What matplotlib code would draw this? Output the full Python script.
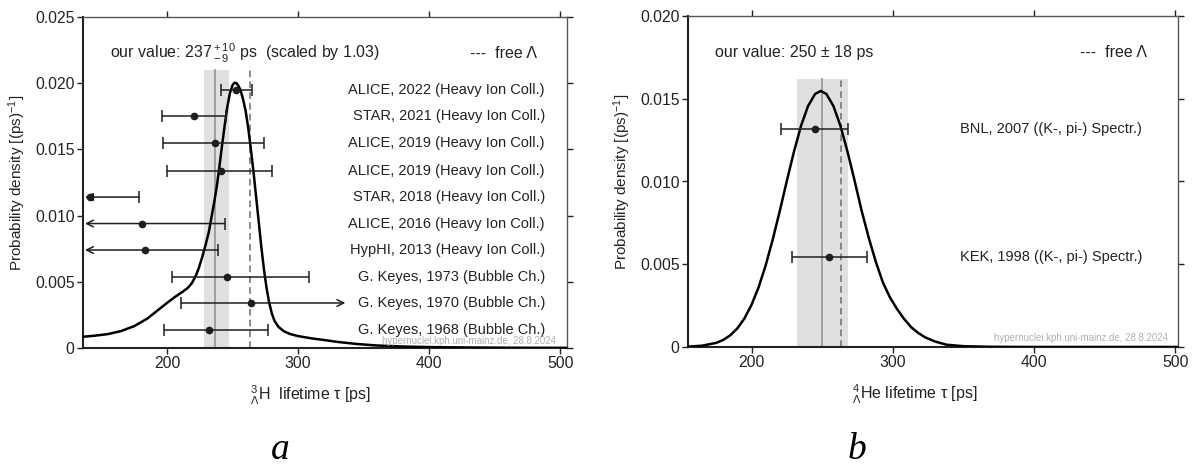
import matplotlib
matplotlib.use("Agg")
import matplotlib.pyplot as plt

plt.rcParams['font.family'] = ['Liberation Sans', 'DejaVu Sans']
plt.rcParams['mathtext.fontset'] = 'custom'
plt.rcParams['mathtext.rm'] = 'Liberation Sans'
plt.rcParams['mathtext.it'] = 'Liberation Sans'
plt.rcParams['mathtext.bf'] = 'Liberation Sans:bold'

# ---------------- data: panel a (3ΛH) ----------------
a_curve_x = [136, 145, 155, 165, 175, 185, 193, 200, 206, 212, 216, 219, 222, 224.5, 227,
             229.5, 232, 234, 236, 238, 240, 242, 244, 246, 248, 250, 251.5, 253, 254.5,
             256, 258, 260, 262, 264, 266, 268, 270, 272, 274, 276, 278, 280, 282, 285,
             289, 294, 300, 310, 320, 330, 345, 360, 380, 400, 430, 460, 505]
a_curve_y = [0.00085, 0.00093, 0.00105, 0.00128, 0.00165, 0.00222, 0.00285, 0.00340,
             0.00385, 0.00425, 0.00455, 0.00490, 0.00545, 0.00610, 0.00690, 0.00780,
             0.00880, 0.00990, 0.01100, 0.01220, 0.01370, 0.01530, 0.01680, 0.01820,
             0.01925, 0.01985, 0.02004, 0.02000, 0.01980, 0.01950, 0.01880, 0.01790,
             0.01660, 0.01500, 0.01330, 0.01140, 0.00950, 0.00760, 0.00590, 0.00450,
             0.00340, 0.00260, 0.00205, 0.00160, 0.00127, 0.00105, 0.00090, 0.00073,
             0.00060, 0.00046, 0.00030, 0.00019, 0.00011, 0.00007, 0.00004, 0.00002,
             0.00001]
a_labels = ["ALICE, 2022 (Heavy Ion Coll.)", "STAR, 2021 (Heavy Ion Coll.)",
            "ALICE, 2019 (Heavy Ion Coll.)", "ALICE, 2019 (Heavy Ion Coll.)",
            "STAR, 2018 (Heavy Ion Coll.)", "ALICE, 2016 (Heavy Ion Coll.)",
            "HypHI, 2013 (Heavy Ion Coll.)", "G. Keyes, 1973 (Bubble Ch.)",
            "G. Keyes, 1970 (Bubble Ch.)", "G. Keyes, 1968 (Bubble Ch.)"]
a_rows = [0.0195, 0.0175, 0.0155, 0.0134, 0.0114, 0.0094, 0.0074, 0.0054, 0.0034, 0.00138]
a_val = [253, 221, 237, 241, 141, 181, 183, 246, 264, 232]
a_lo = [241, 196, 197, 200, None, None, None, 204, 211, 198]
a_hi = [265, 245, 274, 280, 179, 244, 239, 308, None, 277]
a_our, a_our_lo, a_our_hi = 237, 228, 247
a_free = 263.2

# ---------------- data: panel b (4ΛHe) ----------------
b_curve_x = [155, 165, 175, 180, 185, 190, 195, 200, 205, 210, 215, 220, 225, 230, 235,
             240, 245, 249, 253, 258, 263, 268, 273, 278, 283, 288, 293, 298, 303, 308,
             313, 318, 323, 330, 338, 350, 370, 400, 502]
b_curve_y = [0.00002, 0.00008, 0.00025, 0.00043, 0.00071, 0.00113, 0.00173, 0.00255,
             0.00361, 0.00493, 0.00649, 0.00822, 0.01004, 0.01179, 0.01335, 0.01456,
             0.01529, 0.01547, 0.01529, 0.01456, 0.01335, 0.01179, 0.01004, 0.00822,
             0.00660, 0.00515, 0.00390, 0.00300, 0.00230, 0.00170, 0.00120, 0.00085,
             0.00058, 0.00033, 0.00014, 0.00005, 0.00001, 0.0, 0.0]
b_labels = ["BNL, 2007 ((K-, pi-) Spectr.)", "KEK, 1998 ((K-, pi-) Spectr.)"]
b_rows = [0.01315, 0.00542]
b_val = [245, 255]
b_lo = [221, 229]
b_hi = [268, 282]
b_our, b_our_lo, b_our_hi = 250, 232, 268
b_free = 263.2

fig = plt.figure(figsize=(12.02, 4.69), dpi=100)
axa = fig.add_axes([83/1202, 1-348/469, (567-83)/1202, (348-17)/469])
axb = fig.add_axes([688/1202, 1-347/469, (1178-688)/1202, (347-16)/469])

ecol = '#1e1e1e'
FS = 10.5
FT = 11.5
tcol = '#222'


def style(ax, xlim, ylim, yticks, yticklabels):
    ax.set_xlim(*xlim)
    ax.set_ylim(*ylim)
    ax.set_xticks([200, 300, 400, 500])
    ax.set_yticks(yticks)
    ax.set_yticklabels(yticklabels)
    ax.tick_params(direction='out', length=4, width=1, labelsize=11.3, colors=tcol,
                   top=True, right=True, labeltop=False, labelright=False, pad=2)
    for s in ['left', 'bottom']:
        ax.spines[s].set_linewidth(1.5)
        ax.spines[s].set_color('#222')
    for s in ['top', 'right']:
        ax.spines[s].set_linewidth(1.0)
        ax.spines[s].set_color('#555')
    ax.set_ylabel(r'Probability density [(ps)$^{-1}$]', fontsize=11, color=tcol, labelpad=5)


# ---- panel a ----
style(axa, (136, 505), (0, 0.025), [0, 0.005, 0.010, 0.015, 0.020, 0.025],
      ['0', '0.005', '0.010', '0.015', '0.020', '0.025'])
axa.fill_between([a_our_lo, a_our_hi], 0, 0.021, color='#e0e0e0', lw=0, zorder=0)
axa.plot([a_our, a_our], [0, 0.021], color='#9a9a9a', lw=1.3, zorder=1)
axa.plot([a_free, a_free], [0, 0.021], color='#777', lw=1.2, ls=(0, (4, 2.5)), zorder=1)
axa.plot(a_curve_x, a_curve_y, color='black', lw=1.8, zorder=3, solid_joinstyle='round')

xmin_a = 137.5
for yv, v, lo, hi in zip(a_rows, a_val, a_lo, a_hi):
    if lo is not None and hi is not None:
        axa.errorbar([v], [yv], xerr=[[v - lo], [hi - v]], fmt='o', color=ecol, ms=4.5,
                     capsize=4, elinewidth=1.1, capthick=1.1, zorder=4)
    elif lo is None:
        filled = v < 150
        axa.annotate('', xy=(xmin_a, yv), xytext=(hi, yv),
                     arrowprops=dict(arrowstyle='-|>' if filled else '->', color=ecol, lw=1.1,
                                     shrinkA=0, shrinkB=0, mutation_scale=12), zorder=4)
        axa.plot([hi], [yv], marker='|', ms=8, mew=1.1, color=ecol, zorder=4)
        axa.plot([v], [yv], 'o', ms=4.5, color=ecol, zorder=5)
    else:
        axa.annotate('', xy=(336, yv), xytext=(lo, yv),
                     arrowprops=dict(arrowstyle='->', color=ecol, lw=1.1,
                                     shrinkA=0, shrinkB=0, mutation_scale=12), zorder=4)
        axa.plot([lo], [yv], marker='|', ms=8, mew=1.1, color=ecol, zorder=4)
        axa.plot([v], [yv], 'o', ms=4.5, color=ecol, zorder=5)

for lab, yv in zip(a_labels, a_rows):
    axa.text(0.9545, yv, lab, transform=axa.get_yaxis_transform(), ha='right', va='center',
             fontsize=FS, color=tcol)

axa.text(0.056, 0.891, r'our value: 237$\,^{+\,10}_{-\,9}$ ps  (scaled by 1.03)',
         transform=axa.transAxes, ha='left', va='center', fontsize=FT, color=tcol)
axa.text(0.938, 0.891, '---  free Λ', transform=axa.transAxes, ha='right', va='center',
         fontsize=FT, color=tcol)
axa.text(0.977, 0.022, 'hypernuclei.kph.uni-mainz.de, 28.8.2024', transform=axa.transAxes,
         ha='right', va='center', fontsize=7, color='#b0b0b0')
axa.set_xlabel(r'${}^{3}_{\Lambda}$H  lifetime τ [ps]', fontsize=11.5, color=tcol, labelpad=9)
axa.xaxis.label.set_x((311 - 83) / 484)

# ---- panel b ----
style(axb, (155, 502), (0, 0.020), [0, 0.005, 0.010, 0.015, 0.020],
      ['0', '0.005', '0.010', '0.015', '0.020'])
axb.fill_between([b_our_lo, b_our_hi], 0, 0.0162, color='#e0e0e0', lw=0, zorder=0)
axb.plot([b_our, b_our], [0, 0.0162], color='#9a9a9a', lw=1.3, zorder=1)
axb.plot([b_free, b_free], [0, 0.0162], color='#777', lw=1.2, ls=(0, (4, 2.5)), zorder=1)
axb.plot(b_curve_x, b_curve_y, color='black', lw=1.8, zorder=3, solid_joinstyle='round')
for yv, v, lo, hi in zip(b_rows, b_val, b_lo, b_hi):
    axb.errorbar([v], [yv], xerr=[[v - lo], [hi - v]], fmt='o', color=ecol, ms=4.5,
                 capsize=4, elinewidth=1.1, capthick=1.1, zorder=4)
for lab, yv in zip(b_labels, b_rows):
    axb.text(0.9265, yv, lab, transform=axb.get_yaxis_transform(), ha='right', va='center',
             fontsize=FS, color=tcol)
axb.text(0.055, 0.891, 'our value: 250 ± 18 ps', transform=axb.transAxes, ha='left',
         va='center', fontsize=FT, color=tcol)
axb.text(0.937, 0.891, '---  free Λ', transform=axb.transAxes, ha='right', va='center',
         fontsize=FT, color=tcol)
axb.text(0.98, 0.028, 'hypernuclei.kph.uni-mainz.de, 28.8.2024', transform=axb.transAxes,
         ha='right', va='center', fontsize=7, color='#b0b0b0')
axb.set_xlabel(r'${}^{4}_{\Lambda}$He lifetime τ [ps]', fontsize=11.5, color=tcol, labelpad=9)
axb.xaxis.label.set_x((915 - 688) / 490)

fig.text(280/1202, 0.04, 'a', fontsize=27, style='italic', family='Liberation Serif',
         ha='center', va='center')
fig.text(857/1202, 0.04, 'b', fontsize=27, style='italic', family='Liberation Serif',
         ha='center', va='center')

fig.savefig('out.png', dpi=100)
